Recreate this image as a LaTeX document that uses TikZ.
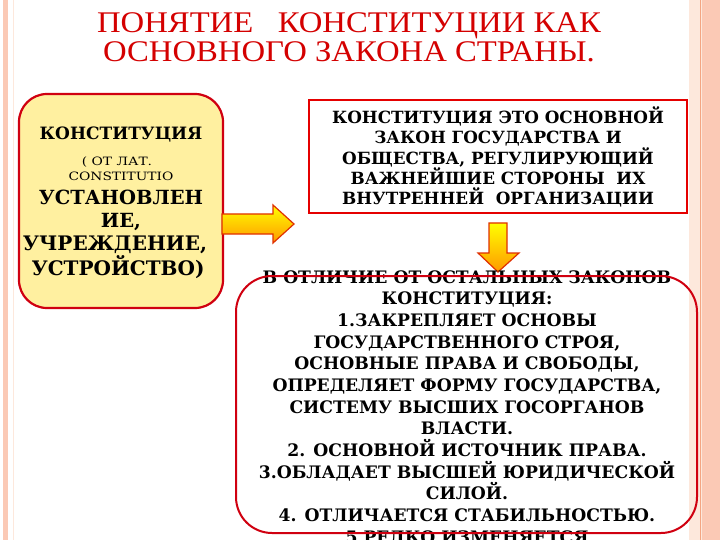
\documentclass[tikz,border=0pt]{standalone}
\usepackage{fontspec}
\setmainfont{DejaVu Serif}
\newfontfamily\titlefont{Liberation Serif}
\usetikzlibrary{calc}
\definecolor{salmon}{HTML}{FBC9B5}
\definecolor{lightsalmon}{HTML}{FDE8DC}
\definecolor{stripe}{HTML}{F4A582}
\definecolor{titlered}{HTML}{D40000}
\definecolor{boxred}{HTML}{D00010}
\definecolor{paleyellow}{HTML}{FFF0A0}
\definecolor{arrowline}{HTML}{E03000}
\tikzset{
  txt/.style={align=center, text=black, inner sep=0pt},
  arrowshape/.style={draw=arrowline, line width=1.2pt, line join=miter, top color=yellow, bottom color=orange!80!yellow},
}
\begin{document}
\begin{tikzpicture}[x=1pt,y=-1pt]
\useasboundingbox (0,0) rectangle (720,540);
\clip (0,0) rectangle (720,540);
\fill[white] (0,0) rectangle (720,540);
% side decorations
\fill[salmon] (3,0) rectangle (8,540);
\draw[lightsalmon, line width=1pt] (13,0) -- (13,540);
\fill[lightsalmon] (689,0) rectangle (720,540);
\draw[stripe, line width=1pt] (700,0) -- (700,540);
\fill[salmon] (702,0) rectangle (720,540);
% title
\node[txt, text=titlered, font={\titlefont\fontsize{30}{29}\selectfont}] (title) at (349,37)
  {\scalebox{1.09}[1]{ПОНЯТИЕ \ \ КОНСТИТУЦИИ КАК}\\\scalebox{1.09}[1]{ОСНОВНОГО ЗАКОНА СТРАНЫ.}};
% left box
\draw[boxred, fill=paleyellow, line width=2.2pt, rounded corners=28pt] (19,94) rectangle (223,308);
\node[txt, font=\bfseries\fontsize{17}{20}\selectfont] (k1) at (121,135) {КОНСТИТУЦИЯ};
\node[txt, font=\fontsize{11.5}{12}\selectfont] (k2) at (117,162) {\scalebox{1.2}[1]{( ОТ ЛАТ.}};
\node[txt, font=\fontsize{11.5}{12}\selectfont] (k3) at (121,176) {\scalebox{1.2}[1]{CONSTITUTIO}};
\node[txt, font=\bfseries\fontsize{19.5}{22}\selectfont] (k4) at (121,197) {УСТАНОВЛЕН};
\node[txt, font=\bfseries\fontsize{19.5}{22}\selectfont] (k5) at (121,222) {ИЕ,};
\node[txt, font=\bfseries\fontsize{20}{22}\selectfont] (k6) at (115,245) {УЧРЕЖДЕНИЕ,};
\node[txt, font=\bfseries\fontsize{20}{22}\selectfont] (k7) at (118,267) {УСТРОЙСТВО)};
% top right box
\draw[red!90!black, line width=2pt] (309,100) rectangle (687,213);
\node[txt, font=\bfseries\fontsize{16.8}{20.4}\selectfont] (def) at (498,157)
  {КОНСТИТУЦИЯ ЭТО ОСНОВНОЙ\\ЗАКОН ГОСУДАРСТВА И\\ОБЩЕСТВА, РЕГУЛИРУЮЩИЙ\\ВАЖНЕЙШИЕ СТОРОНЫ \ ИХ\\ВНУТРЕННЕЙ \ ОРГАНИЗАЦИИ};
% right arrow
\path[arrowshape] (222,214) -- (273,214) -- (273,205) -- (294,224) -- (273,243) -- (273,234) -- (222,234) -- cycle;
% down arrow
\path[arrowshape] (489,223) -- (507,223) -- (507,253) -- (519,253) -- (498,272) -- (478,253) -- (489,253) -- cycle;
% bottom text
\node[txt, font=\bfseries\fontsize{17.2}{21.67}\selectfont] (diff) at (467,408)
  {В ОТЛИЧИЕ ОТ ОСТАЛЬНЫХ ЗАКОНОВ\\КОНСТИТУЦИЯ:\\1.ЗАКРЕПЛЯЕТ ОСНОВЫ\\ГОСУДАРСТВЕННОГО СТРОЯ,\\ОСНОВНЫЕ ПРАВА И СВОБОДЫ,\\ОПРЕДЕЛЯЕТ ФОРМУ ГОСУДАРСТВА,\\СИСТЕМУ ВЫСШИХ ГОСОРГАНОВ\\ВЛАСТИ.\\2. ОСНОВНОЙ ИСТОЧНИК ПРАВА.\\3.ОБЛАДАЕТ ВЫСШЕЙ ЮРИДИЧЕСКОЙ\\СИЛОЙ.\\4. ОТЛИЧАЕТСЯ СТАБИЛЬНОСТЬЮ.\\5.РЕДКО ИЗМЕНЯЕТСЯ};
\draw[boxred, line width=2pt, rounded corners=36pt] (236,276) rectangle (697,533);
\end{tikzpicture}
\end{document}
